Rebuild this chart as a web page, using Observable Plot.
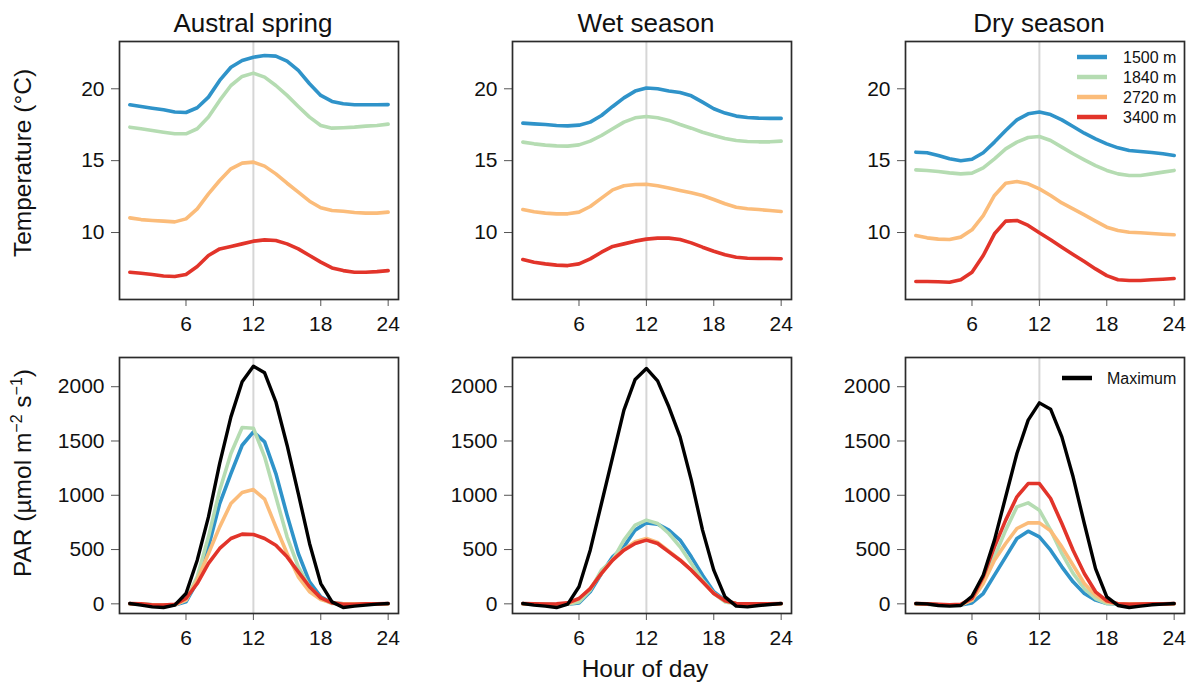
<!DOCTYPE html>
<html>
<head>
<meta charset="utf-8">
<script src="https://cdn.jsdelivr.net/npm/d3@7"></script>
<script src="https://cdn.jsdelivr.net/npm/@observablehq/plot@0.6"></script>
<style>
  body { margin: 0; background: #fff; }
  #chart { position: relative; width: 1191px; height: 684px; overflow: hidden;
           font-family: "Liberation Sans", Arial, Helvetica, sans-serif; background: #fff; }
</style>
</head>
<body>
<div id="chart"></div>
<script>
// ---------- categories / labels ----------
const seasons = ["Austral spring", "Wet season", "Dry season"];
const elevations = ["1500 m", "1840 m", "2720 m", "3400 m"];
const elevationColors = ["#2f93c9", "#b5dcb2", "#fbbc7a", "#e2342a"];
const maxLabel = "Maximum";
const maxColor = "#000000";
const hours = [1,2,3,4,5,6,7,8,9,10,11,12,13,14,15,16,17,18,19,20,21,22,23,24];
const hourTicks = [6, 12, 18, 24];
const tempTicks = [10, 15, 20];
const parTicks = [0, 500, 1000, 1500, 2000];
const tempLabel = "Temperature (°C)";
const parLabel = "PAR (µmol m−2 s−1)";
const xLabel = "Hour of day";

// ---------- temperature (°C) ----------
const tSpring1500 = [18.89,18.77,18.65,18.54,18.38,18.35,18.68,19.42,20.58,21.5,21.97,22.2,22.32,22.27,21.93,21.28,20.35,19.54,19.12,18.96,18.89,18.89,18.89,18.9];
const tSpring1840 = [17.33,17.22,17.1,16.98,16.87,16.87,17.22,18.03,19.19,20.23,20.86,21.09,20.81,20.23,19.54,18.77,18.03,17.45,17.26,17.29,17.33,17.4,17.45,17.54];
const tSpring2720 = [11.02,10.9,10.84,10.79,10.74,10.95,11.65,12.69,13.62,14.43,14.83,14.9,14.62,14.08,13.43,12.81,12.18,11.72,11.53,11.48,11.39,11.35,11.35,11.42];
const tSpring3400 = [7.24,7.17,7.08,6.98,6.94,7.08,7.63,8.4,8.86,9.03,9.21,9.4,9.49,9.44,9.21,8.86,8.4,7.94,7.54,7.35,7.24,7.24,7.28,7.35];

const tWet1500 = [17.61,17.56,17.52,17.45,17.42,17.47,17.68,18.14,18.77,19.37,19.84,20.05,20.0,19.84,19.74,19.51,19.07,18.61,18.31,18.1,18.0,17.96,17.94,17.94];
const tWet1840 = [16.29,16.17,16.08,16.03,16.01,16.1,16.36,16.75,17.22,17.68,17.98,18.07,17.98,17.8,17.52,17.26,16.98,16.75,16.54,16.4,16.33,16.31,16.31,16.36];
const tWet2720 = [11.6,11.44,11.35,11.3,11.3,11.42,11.81,12.39,12.97,13.25,13.34,13.36,13.25,13.09,12.92,12.76,12.58,12.3,12.0,11.76,11.65,11.6,11.53,11.46];
const tWet3400 = [8.12,7.93,7.82,7.73,7.7,7.82,8.17,8.63,9.03,9.21,9.4,9.54,9.61,9.61,9.51,9.28,8.98,8.7,8.45,8.28,8.21,8.19,8.19,8.17];

const tDry1500 = [15.59,15.55,15.36,15.13,14.99,15.1,15.55,16.29,17.1,17.84,18.26,18.38,18.21,17.84,17.38,16.91,16.52,16.17,15.89,15.71,15.64,15.57,15.48,15.36];
const tDry1840 = [14.36,14.32,14.25,14.15,14.08,14.13,14.5,15.13,15.82,16.29,16.61,16.68,16.4,15.94,15.48,15.06,14.66,14.32,14.08,13.97,13.97,14.08,14.2,14.32];
const tDry2720 = [9.79,9.63,9.54,9.51,9.68,10.19,11.18,12.58,13.43,13.55,13.39,13.04,12.58,12.06,11.65,11.23,10.79,10.37,10.14,10.02,9.98,9.93,9.88,9.84];
const tDry3400 = [6.59,6.59,6.57,6.54,6.71,7.24,8.4,9.91,10.79,10.84,10.49,9.98,9.5,8.98,8.47,7.98,7.47,7.0,6.71,6.66,6.66,6.71,6.75,6.8];

// ---------- PAR (µmol m-2 s-1) ----------
const pSpringMax  = [3,-12,-28,-34,-12,95,402,801,1293,1722,2045,2189,2128,1861,1461,1016,556,187,18,-34,-21,-12,-3,3];
const pSpring1500 = [0,-3,-8,-12,-10,18,203,525,924,1200,1461,1584,1492,1200,817,464,203,64,9,0,0,0,0,0];
const pSpring1840 = [0,-3,-8,-12,-10,34,249,617,1047,1385,1624,1618,1354,986,617,341,157,49,3,0,0,0,0,0];
const pSpring2720 = [0,-3,-8,-12,-10,34,218,464,709,924,1025,1053,964,709,464,249,111,40,9,0,0,0,0,0];
const pSpring3400 = [3,0,-12,-12,-5,49,187,372,510,602,642,639,602,540,433,295,157,55,9,-5,-5,0,0,3];

const pWetMax  = [3,-12,-21,-34,-3,157,494,924,1354,1784,2067,2168,2054,1815,1538,1139,679,310,64,-21,-28,-15,-6,3];
const pWet1500 = [0,-3,-5,-8,-3,9,111,280,433,525,679,746,734,679,587,433,264,111,34,0,0,0,0,0];
const pWet1840 = [0,-3,-5,-8,-3,18,126,310,402,587,725,771,740,648,525,372,218,95,18,0,0,0,0,0];
const pWet2720 = [0,-3,-5,-8,0,45,141,280,410,500,571,602,565,485,405,312,205,98,28,3,0,0,0,0];
const pWet3400 = [3,0,-3,0,9,49,141,280,402,494,556,587,556,479,402,310,203,95,28,3,0,0,0,3];

const pDryMax  = [3,0,-15,-21,-15,70,264,587,986,1385,1692,1851,1793,1538,1170,740,325,64,-15,-34,-21,-9,-3,3];
const pDry1500 = [0,-3,-8,-12,-10,9,95,264,433,602,669,617,494,341,203,95,34,3,0,0,0,0,0,0];
const pDry1840 = [0,-3,-8,-12,-10,34,203,433,679,893,930,863,679,464,280,141,49,3,0,0,0,0,0,0];
const pDry2720 = [0,-3,-8,-12,-10,34,187,402,556,694,746,746,672,525,356,187,80,18,0,0,0,0,0,0];
const pDry3400 = [3,0,-5,-8,-5,50,249,525,771,986,1108,1108,970,740,494,280,111,28,0,-5,-3,0,0,3];

// ---------- assemble ----------
const tempBySeason = [
  [tSpring1500, tSpring1840, tSpring2720, tSpring3400],
  [tWet1500, tWet1840, tWet2720, tWet3400],
  [tDry1500, tDry1840, tDry2720, tDry3400]
];
const parBySeason = [
  [pSpring1500, pSpring1840, pSpring2720, pSpring3400],
  [pWet1500, pWet1840, pWet2720, pWet3400],
  [pDry1500, pDry1840, pDry2720, pDry3400]
];
const maxBySeason = [pSpringMax, pWetMax, pDryMax];

function toRows(seriesArrays, names) {
  const rows = [];
  seriesArrays.forEach((vals, i) => vals.forEach((v, j) => rows.push({hour: hours[j], value: v, series: names[i]})));
  return rows;
}

const FONT = '"Liberation Sans", Arial, Helvetica, sans-serif';
const chart = document.getElementById("chart");
const colLeft = [9, 402, 795];
const rowTop = [0, 340];
const intFormat = d3.format("d");

function makePanel(col, row) {
  const isTemp = row === 0;
  const colored = toRows(isTemp ? tempBySeason[col] : parBySeason[col], elevations);
  const marks = [
    Plot.ruleX([12], {stroke: "#d6d6d6", strokeWidth: 2}),
    Plot.line(colored, {x: "hour", y: "value", z: "series", stroke: "series",
      strokeWidth: 3.6, strokeLinejoin: "round", strokeLinecap: "round"})
  ];
  if (!isTemp) {
    marks.push(Plot.line(toRows([maxBySeason[col]], [maxLabel]), {x: "hour", y: "value", z: "series", stroke: "series",
      strokeWidth: 3.4, strokeLinejoin: "round", strokeLinecap: "round"}));
  }
  marks.push(
    Plot.axisX(hourTicks, {tickSize: 7, tickPadding: 10, tickFormat: intFormat, stroke: "#555", fill: "#111", fontSize: 21, label: null}),
    Plot.axisY(isTemp ? tempTicks : parTicks, {tickSize: 8, tickPadding: 7, tickFormat: intFormat, stroke: "#555", fill: "#111", fontSize: 21, label: null}),
    Plot.frame({stroke: "#2b2b2b", strokeWidth: 1.7})
  );
  if (isTemp) {
    marks.push(Plot.text([seasons[col]], {text: d => d, frameAnchor: "top", textAnchor: "middle", lineAnchor: "bottom",
      dy: -10, dx: -6, fontSize: 26, fill: "#111"}));
  }
  if (col === 0) {
    marks.push(Plot.text([isTemp ? tempLabel : parLabel], {text: d => d, frameAnchor: "left", rotate: -90,
      textAnchor: "middle", lineAnchor: "middle", dx: -96.5, dy: isTemp ? -7.5 : -12.5, fontSize: 24.5, fill: "#111"}));
  }
  if (col === 1 && !isTemp) {
    marks.push(Plot.text([xLabel], {text: d => d, frameAnchor: "bottom", textAnchor: "middle", lineAnchor: "bottom",
      dy: 63.5, dx: -7, fontSize: 24.5, fill: "#111"}));
  }
  const svg = Plot.plot({
    width: 393,
    height: isTemp ? 340 : 344,
    marginLeft: 110, marginRight: 4,
    marginTop: isTemp ? 41 : 17,
    marginBottom: isTemp ? 41 : 71,
    style: {background: "transparent", fontFamily: FONT, fontSize: "21px", color: "#111", overflow: "visible"},
    x: {domain: [0.08, 24.92]},
    y: {domain: isTemp ? [5.34, 23.29] : [-89, 2269]},
    color: {domain: [...elevations, maxLabel], range: [...elevationColors, maxColor]},
    marks
  });
  svg.style.position = "absolute";
  svg.style.left = colLeft[col] + "px";
  svg.style.top = rowTop[row] + "px";
  svg.style.maxWidth = "none";
  // superscripts in the PAR label
  d3.select(svg).selectAll("text").filter(function() { return this.textContent === parLabel; }).each(function() {
    const t = d3.select(this);
    t.text(null);
    t.append("tspan").text("PAR (µmol m");
    t.append("tspan").attr("dy", -9).attr("font-size", 16).text("−2");
    t.append("tspan").attr("dy", 9).text(" s");
    t.append("tspan").attr("dy", -9).attr("font-size", 16).text("−1");
    t.append("tspan").attr("dy", 9).text(")");
  });
  chart.appendChild(svg);
}

for (let r = 0; r < 2; r++) for (let c = 0; c < 3; c++) makePanel(c, r);

// ---------- legends ----------
const leg = d3.select(chart).append("svg")
  .attr("width", 1191).attr("height", 684)
  .style("position", "absolute").style("left", "0px").style("top", "0px")
  .style("font-family", FONT).style("pointer-events", "none");

const g1 = leg.append("g").attr("transform", "translate(1077,57)");
elevations.forEach((name, i) => {
  const gi = g1.append("g").attr("transform", `translate(0,${i * 20})`);
  gi.append("line").attr("x1", 0).attr("x2", 30).attr("stroke", elevationColors[i]).attr("stroke-width", 4.5);
  gi.append("text").attr("x", 46).attr("dy", "0.35em").attr("font-size", 16).attr("fill", "#111").text(name);
});
const g2 = leg.append("g").attr("transform", "translate(1062,378)");
g2.append("line").attr("x1", 0).attr("x2", 30).attr("stroke", maxColor).attr("stroke-width", 4.5);
g2.append("text").attr("x", 45).attr("dy", "0.35em").attr("font-size", 16).attr("fill", "#111").text(maxLabel);
</script>
</body>
</html>
